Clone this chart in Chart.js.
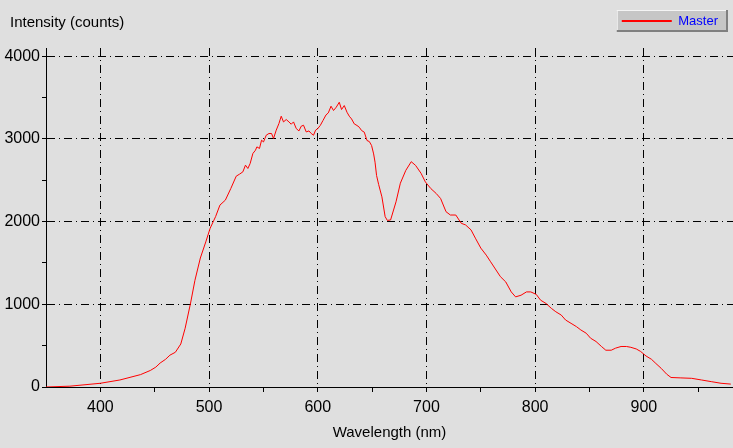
<!DOCTYPE html>
<html>
<head>
<meta charset="utf-8">
<script src="https://cdn.jsdelivr.net/npm/chart.js@4/dist/chart.umd.min.js"></script>
<style>
  html, body { margin: 0; padding: 0; background: #dfdfdf; }
  #wrap { width: 733px; height: 448px; }
</style>
</head>
<body>
<div id="wrap"><canvas id="spectrum"></canvas></div>
<script>
"use strict"

//Spectrum
const wavelengths = [
    350, 372, 400, 418, 437, 446, 451, 455, 460, 464,
    469, 474, 478, 483, 487, 492, 497, 501, 506, 510,
    515, 520,
    525.0, 528.0, 531.1, 533.5, 535.7, 537.8, 540.3, 542.7, 544.0, 546.4,
    548.3, 550.1, 552.6, 555.1, 557.5, 559.3, 561.8, 564.3, 566.4, 568.5,
    571.0, 573.5, 575.6, 577.7, 580.2, 582.7, 584.8, 586.9, 589.4, 591.9,
    594.0, 596.1, 598.0, 599.8, 602.3, 604.8, 607.6, 609.7, 612.2, 614.5,
    617.0, 619.8, 621.9, 624.4, 626.9, 629.0, 631.1, 633.6, 636.1, 638.2,
    640.3, 642.8, 645.3, 647.4, 649.5, 651.4, 652.7, 654.1,
    656, 659, 662, 664, 667, 672, 676,
    681, 686, 690, 695, 699, 704, 709, 713, 718, 722,
    727, 732, 736, 741, 745, 750, 755, 759, 764, 768,
    773, 778, 782, 787, 792, 796, 801, 805, 810, 815,
    819, 824, 828, 833, 838, 842, 847, 851, 856, 861,
    865, 870, 874, 879, 884, 888, 893, 897, 902, 907,
    911, 916, 921, 925, 934, 944, 953, 962, 971, 980
];
const intensities = [
    0, 10, 45, 85, 150, 200, 240, 290, 335, 385,
    420, 520, 710, 1015, 1290, 1560, 1755, 1920, 2060, 2200,
    2260, 2400,
    2550, 2574, 2602, 2683, 2643, 2703, 2824, 2864, 2904, 2885,
    2985, 2964, 3045, 3066, 3066, 3006, 3106, 3187, 3275, 3206,
    3235, 3206, 3178, 3206, 3126, 3097, 3154, 3166, 3085, 3097,
    3066, 3045, 3106, 3122, 3163, 3223, 3291, 3315, 3396, 3344,
    3384, 3444, 3356, 3404, 3323, 3275, 3242, 3182, 3163, 3142,
    3102, 3082, 2981, 2969, 2921, 2819, 2719, 2558,
    2450, 2300, 2060, 2015, 2020, 2240, 2465,
    2620, 2725, 2680, 2585, 2480, 2400, 2340, 2280, 2120, 2080,
    2080, 1980, 1960, 1900, 1800, 1680, 1595, 1515, 1415, 1335,
    1270, 1150, 1090, 1110, 1150, 1150, 1120, 1050, 1010, 950,
    910, 870, 810, 770, 730, 690, 650, 590, 550, 490,
    445, 445, 470, 490, 490, 480, 460, 430, 375, 335,
    285, 225, 155, 115, 110, 105, 85, 65, 45, 35
];

//Tick positions, labels only on every other one
const xTicks = [400, 450, 500, 550, 600, 650, 700, 750, 800, 850, 900, 950];
const yTicks = [0, 500, 1000, 1500, 2000, 2500, 3000, 3500, 4000];
const xLabelStep = 100;
const yLabelStep = 1000;

const seriesName = "Master";
const xTitle = "Wavelength (nm)";
const yTitle = "Intensity (counts)";

const canvas = document.getElementById("spectrum");
const dashDot = [8, 4, 1, 4];
const font = "'Liberation Sans', Arial, sans-serif";
const lineColor = "#ff0000";
const sampleWidth = 50;

//Grey background, the raised legend box and its red sample line
const panelPlugin = {
    id: "panel",
    afterLayout(chart) {
        //let the y labels use the left margin too (they are clipped to the scale box)
        chart.scales.y.left = 0;
    },
    beforeDraw(chart) {
        const ctx = chart.ctx;
        ctx.save();
        ctx.fillStyle = "#dfdfdf";
        ctx.fillRect(0, 0, chart.width, chart.height);

        const hb = chart.legend && chart.legend.legendHitBoxes && chart.legend.legendHitBoxes[0];
        if(hb) {
            const x = hb.left - 5;
            const y = hb.top - 5;
            const w = hb.width + 15;
            const h = hb.height + 9;
            ctx.fillStyle = "#c6c6c6";
            ctx.fillRect(x, y, w, h);
            ctx.fillStyle = "#f4f4f4";
            ctx.fillRect(x, y, w, 1);
            ctx.fillRect(x, y, 1, h);
            ctx.fillStyle = "#808080";
            ctx.fillRect(x, y + h - 2, w, 2);
            ctx.fillRect(x + w - 2, y, 2, h);
        }
        ctx.restore();
    },
    afterDraw(chart) {
        const hb = chart.legend && chart.legend.legendHitBoxes && chart.legend.legendHitBoxes[0];
        if(!hb) {
            return;
        }
        const ctx = chart.ctx;
        ctx.save();
        ctx.fillStyle = lineColor;
        ctx.fillRect(hb.left, Math.round(hb.top + hb.height / 2) - 2, sampleWidth, 2);
        ctx.restore();
    }
};

function majorOnly(step) {
    return (c) => (c.tick && c.tick.value !== 0 && c.tick.value % step === 0) ? "#000000" : "rgba(0,0,0,0)";
}

new Chart(canvas, {
    type: "line",
    data: {
        datasets: [{
            label: seriesName,
            data: wavelengths.map((w, i) => ({x: w, y: intensities[i]})),
            borderColor: lineColor,
            backgroundColor: lineColor,
            borderWidth: 1,
            pointRadius: 0,
            tension: 0,
            fill: false
        }]
    },
    options: {
        responsive: true,
        maintainAspectRatio: false,
        animation: false,
        events: [],
        layout: { padding: { left: 10, right: 0, top: 0, bottom: 0 } },
        scales: {
            x: {
                type: "linear",
                min: 350,
                max: 982,
                afterBuildTicks: (scale) => { scale.ticks = xTicks.map(v => ({value: v})); },
                afterFit: (scale) => { scale.height = 61; },
                ticks: {
                    color: "#000000",
                    padding: 6,
                    maxRotation: 0,
                    autoSkip: false,
                    font: { family: font, size: 16 },
                    callback: (v) => v % xLabelStep === 0 ? String(v) : ""
                },
                grid: {
                    color: majorOnly(xLabelStep),
                    tickColor: "#000000",
                    tickLength: 5,
                    lineWidth: 1
                },
                border: { display: true, color: "#000000", width: 1, dash: dashDot },
                title: {
                    display: true,
                    text: xTitle,
                    color: "#000000",
                    padding: { top: 0, bottom: 6 },
                    font: { family: font, size: 15 }
                }
            },
            y: {
                type: "linear",
                min: 0,
                max: 4100,
                afterBuildTicks: (scale) => { scale.ticks = yTicks.map(v => ({value: v})); },
                afterFit: (scale) => { scale.width = 36; },
                ticks: {
                    color: "#000000",
                    padding: 2,
                    autoSkip: false,
                    font: { family: font, size: 16 },
                    callback: (v) => v % yLabelStep === 0 ? String(v) : ""
                },
                grid: {
                    color: majorOnly(yLabelStep),
                    tickColor: "#000000",
                    tickLength: 4,
                    lineWidth: 1
                },
                border: { display: true, color: "#000000", width: 1, dash: dashDot }
            }
        },
        plugins: {
            legend: {
                display: true,
                position: "top",
                align: "end",
                labels: {
                    usePointStyle: true,
                    pointStyle: "line",
                    pointStyleWidth: sampleWidth,
                    padding: 15,
                    color: "#0000ff",
                    font: { family: font, size: 13 },
                    generateLabels: (chart) => Chart.defaults.plugins.legend.labels.generateLabels(chart)
                        .map(item => Object.assign(item, { strokeStyle: lineColor, lineWidth: 0 }))
                }
            },
            title: {
                display: true,
                text: yTitle,
                align: "start",
                weight: 500,
                color: "#000000",
                padding: { top: -24, bottom: 16 },
                font: { family: font, size: 15, weight: "normal" }
            },
            tooltip: { enabled: false }
        }
    },
    plugins: [panelPlugin]
});
</script>
</body>
</html>
